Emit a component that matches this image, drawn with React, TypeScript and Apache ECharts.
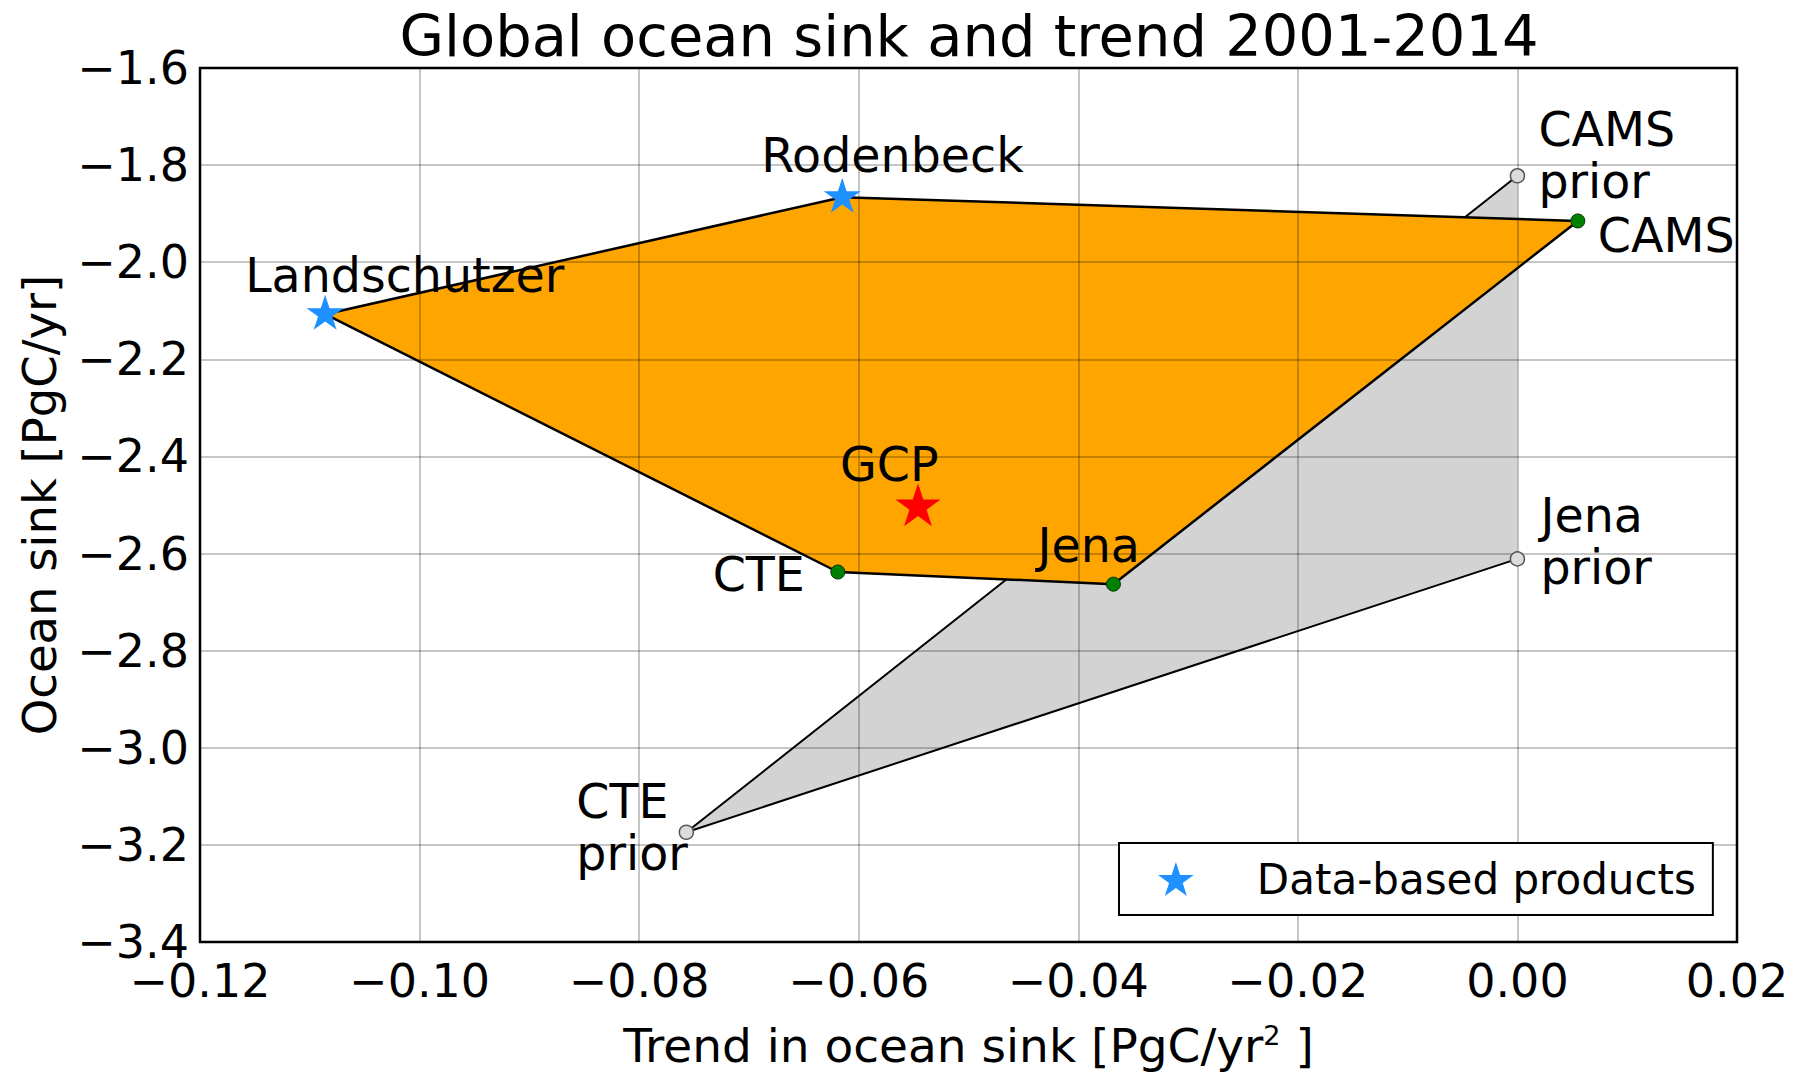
import React, { useEffect, useRef } from 'react';
import * as echarts from 'echarts';

// Prior fluxes of the atmospheric inversions
const priorNames = ['CAMS\nprior', 'Jena\nprior', 'CTE\nprior'];
const priorTrend = [0.0, 0.0, -0.0757];
const priorSink = [-1.822, -2.611, -3.174];

// Optimised fluxes of the atmospheric inversions
const inversionNames = ['CAMS', 'Jena', 'CTE'];
const inversionTrend = [0.0055, -0.0368, -0.0619];
const inversionSink = [-1.915, -2.663, -2.638];

// Data-based products
const productNames = ['Landschutzer', 'Rodenbeck'];
const productTrend = [-0.1086, -0.0615];
const productSink = [-2.107, -1.866];

// Global Carbon Project estimate
const gcpNames = ['GCP'];
const gcpTrend = [-0.0546];
const gcpSink = [-2.504];

const titleText = 'Global ocean sink and trend 2001-2014';
const legendName = 'Data-based products';

// Label placement around each marker: [dx, dy, align]
const labelPlacement: Record<string, [number, number, string]> = {
  'CAMS\nprior': [21, -20, 'left'],
  'Jena\nprior': [23, -17, 'left'],
  'CTE\nprior': [-110, -5, 'left'],
  CAMS: [20, 15, 'left'],
  Jena: [-76, -39, 'left'],
  CTE: [-33, 2, 'right'],
  Landschutzer: [-80, -37, 'left'],
  Rodenbeck: [-81, -40, 'left'],
  GCP: [-78, -40, 'left'],
};

const FONT = 'DejaVu Sans';
const STAR =
  'path://M50 0 L61.23 34.55 L97.55 34.55 L68.17 55.9 L79.39 90.45 L50 69.1 L20.61 90.45 L31.83 55.9 L2.45 34.55 L38.77 34.55 Z';

const minus = (v: number, digits: number) => {
  if (Math.abs(v) < 1e-9) return (0).toFixed(digits);
  return (v < 0 ? '\u2212' : '') + Math.abs(v).toFixed(digits);
};

const pointData = (names: string[], xs: number[], ys: number[]) =>
  names.map((name, i) => {
    const [dx, dy, align] = labelPlacement[name];
    return {
      name,
      value: [xs[i], ys[i]],
      label: { offset: [dx, dy], align },
    };
  });

const pointLabel = {
  show: true,
  position: 'inside',
  verticalAlign: 'middle',
  fontFamily: FONT,
  fontSize: 47.5,
  lineHeight: 52,
  color: '#000',
  formatter: (p: any) => p.name,
};

export default function App() {
  const ref = useRef<HTMLDivElement>(null);

  useEffect(() => {
    if (!ref.current) return;
    const chart = echarts.init(ref.current, null, { renderer: 'svg' });

    // vertices of the shaded envelopes
    const orangeX = [productTrend[0], productTrend[1], inversionTrend[0], inversionTrend[1], inversionTrend[2]];
    const orangeY = [productSink[0], productSink[1], inversionSink[0], inversionSink[1], inversionSink[2]];

    const option: any = {
      animation: false,
      backgroundColor: '#fff',
      title: {
        text: titleText,
        left: 969,
        top: 7,
        textAlign: 'center',
        padding: 0,
        textStyle: { fontFamily: FONT, fontSize: 57.5, fontWeight: 'normal', color: '#000' },
      },
      grid: {
        left: 200,
        top: 68,
        right: 66,
        bottom: 136,
        show: true,
        borderColor: '#000',
        borderWidth: 2.5,
      },
      legend: {
        data: [{ name: legendName, icon: STAR }],
        left: 1119,
        top: 843,
        itemWidth: 36,
        itemHeight: 34,
        padding: [15, 17, 15, 39],
        borderColor: '#000',
        borderWidth: 2,
        borderRadius: 0,
        backgroundColor: '#fff',
        selectedMode: false,
        textStyle: { fontFamily: FONT, fontSize: 42, color: '#000', padding: [0, 0, 0, 58] },
      },
      xAxis: {
        type: 'value',
        min: -0.12,
        max: 0.02,
        interval: 0.02,
        z: 2,
        name: 'Trend in ocean sink [PgC/yr{sup|2} ]',
        nameLocation: 'middle',
        nameGap: 80,
        nameTextStyle: {
          fontFamily: FONT,
          fontSize: 47,
          color: '#000',
          rich: { sup: { fontFamily: FONT, fontSize: 27, color: '#000', verticalAlign: 'top' } },
        },
        axisLine: { show: false },
        axisTick: { show: false },
        axisLabel: {
          fontFamily: FONT,
          fontSize: 46,
          lineHeight: 38,
          color: '#000',
          margin: 20,
          formatter: (v: number) => minus(v, 2),
        },
        splitLine: { show: true, lineStyle: { color: 'rgba(0,0,0,0.3)', width: 1.5 } },
      },
      yAxis: {
        type: 'value',
        min: -3.4,
        max: -1.6,
        interval: 0.2,
        z: 2,
        name: 'Ocean sink [PgC/yr]',
        nameLocation: 'middle',
        nameGap: 137,
        nameTextStyle: { fontFamily: FONT, fontSize: 46.5, color: '#000' },
        axisLine: { show: false },
        axisTick: { show: false },
        axisLabel: {
          fontFamily: FONT,
          fontSize: 46,
          lineHeight: 38,
          color: '#000',
          margin: 11,
          formatter: (v: number) => minus(v, 1),
        },
        splitLine: { show: true, lineStyle: { color: 'rgba(0,0,0,0.3)', width: 1.5 } },
      },
      series: [
        {
          // envelope spanned by the prior fluxes
          type: 'custom',
          z: 1,
          silent: true,
          data: priorTrend.map((x, i) => [x, priorSink[i]]),
          encode: { x: 0, y: 1 },
          renderItem: (params: any, api: any) => {
            if (params.dataIndex !== 0) return null;
            const pts = priorTrend.map((x, i) => api.coord([x, priorSink[i]]));
            return {
              type: 'group',
              children: [
                { type: 'polygon', shape: { points: pts }, style: { fill: '#d3d3d3', stroke: 'none' } },
                {
                  type: 'polyline',
                  shape: { points: [pts[0], pts[2], pts[1]] },
                  style: { fill: 'none', stroke: '#000', lineWidth: 2 },
                },
              ],
            };
          },
        },
        {
          // envelope spanned by the data products and optimised inversions
          type: 'custom',
          z: 1,
          silent: true,
          data: orangeX.map((x, i) => [x, orangeY[i]]),
          encode: { x: 0, y: 1 },
          renderItem: (params: any, api: any) => {
            if (params.dataIndex !== 0) return null;
            const pts = orangeX.map((x, i) => api.coord([x, orangeY[i]]));
            return {
              type: 'polygon',
              shape: { points: pts },
              style: { fill: '#ffa500', stroke: '#000', lineWidth: 2.5, lineJoin: 'round' },
            };
          },
        },
        {
          name: 'Priors',
          type: 'scatter',
          z: 5,
          symbol: 'circle',
          symbolSize: 14,
          itemStyle: { color: '#dcdcdc', borderColor: '#555', borderWidth: 1.5, opacity: 1 },
          label: pointLabel,
          data: pointData(priorNames, priorTrend, priorSink),
        },
        {
          name: 'Inversions',
          type: 'scatter',
          z: 5,
          symbol: 'circle',
          symbolSize: 14,
          itemStyle: { color: '#008000', borderColor: '#003300', borderWidth: 1, opacity: 1 },
          label: pointLabel,
          data: pointData(inversionNames, inversionTrend, inversionSink),
        },
        {
          name: legendName,
          type: 'scatter',
          z: 6,
          symbol: STAR,
          symbolSize: [37, 35],
          symbolOffset: [0, '-5.3%'],
          itemStyle: { color: '#1e90ff', opacity: 1 },
          label: pointLabel,
          data: pointData(productNames, productTrend, productSink),
        },
        {
          name: 'GCP',
          type: 'scatter',
          z: 6,
          symbol: STAR,
          symbolSize: [45, 43],
          symbolOffset: [0, '-5.3%'],
          itemStyle: { color: '#ff0000', opacity: 1 },
          label: pointLabel,
          data: pointData(gcpNames, gcpTrend, gcpSink),
        },
      ],
    };

    chart.setOption(option);
    return () => chart.dispose();
  }, []);

  return (
    <div
      ref={ref}
      style={{ position: 'fixed', left: 0, top: 0, width: 1803, height: 1078, background: '#fff' }}
    />
  );
}
